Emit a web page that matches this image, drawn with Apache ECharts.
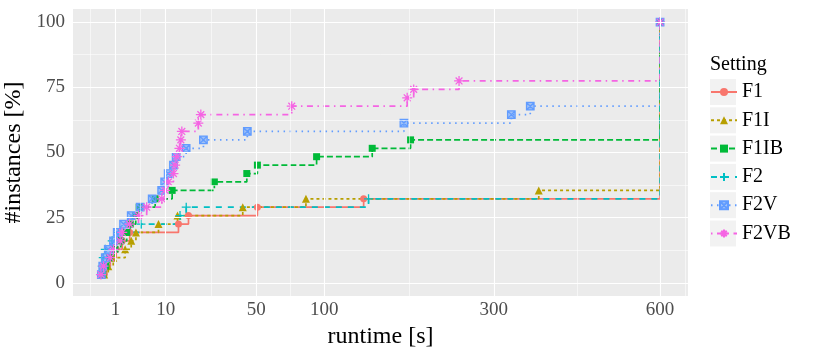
<!DOCTYPE html>
<html lang="en">
<head>
    <meta charset="UTF-8">
    <title>Runtime steps</title>
    <script src="https://cdn.jsdelivr.net/npm/echarts@6/dist/echarts.min.js"></script>
    <style>
        html, body { margin: 0; padding: 0; background: #fff; }
        #chart { width: 822px; height: 353px; }
    </style>
</head>
<body>
<div id="chart"></div>
<script>
    // runtimes in seconds, share of solved instances in %
    var f1Time   = [0.26, 0.38, 0.6, 1.06, 1.66, 2.6, 13.8, 17.2, 50.7, 137, 600];
    var f1Pct    = [3.23, 6.45, 9.68, 12.9, 16.13, 19.35, 22.58, 25.81, 29.03, 32.26, 100];

    var f1iTime  = [0.26, 0.47, 0.81, 2.0, 2.81, 3.53, 8.14, 13.5, 42.1, 84.9, 371, 600];
    var f1iPct   = [3.23, 6.45, 9.68, 12.9, 16.13, 19.35, 22.58, 25.81, 29.03, 32.26, 35.48, 100];

    var f1ibTime = [0.2, 0.33, 0.55, 0.95, 1.5, 2.2, 2.67, 3.5, 4.08, 7.34, 11.85, 27.7, 44.4, 50.7, 93.6, 145.8, 188.5, 600];
    var f1ibPct  = [3.23, 6.45, 9.68, 12.9, 16.13, 19.35, 22.58, 25.81, 29.03, 32.26, 35.48, 38.71, 41.94, 45.16, 48.39, 51.61, 54.84, 100];

    var f2Time   = [0.15, 0.18, 0.22, 0.31, 0.73, 1.25, 4.4, 14.3, 16.4, 142, 600];
    var f2Pct    = [3.23, 6.45, 9.68, 12.9, 16.13, 19.35, 22.58, 25.81, 29.03, 32.26, 100];

    var f2vTime  = [0.15, 0.2, 0.31, 0.47, 0.83, 1.15, 1.81, 2.81, 4.26, 6.66, 8.94, 9.73, 10.7, 12.24, 13.07, 16.37, 22.96, 44.7, 180.7, 326.8, 357, 600];
    var f2vPct   = [3.23, 6.45, 9.68, 12.9, 16.13, 19.35, 22.58, 25.81, 29.03, 32.26, 35.48, 38.71, 41.94, 45.16, 48.39, 51.61, 54.84, 58.06, 61.29, 64.52, 67.74, 100];

    var f2vbTime = [0.137, 0.233, 0.595, 0.83, 1.44, 1.66, 2.57, 3.96, 5.49, 8.99, 9.86, 10.77, 12.24, 12.75, 13.29, 14.11, 14.57, 14.9, 20.9, 21.9, 74.0, 184.5, 192.2, 250.3, 600];
    var f2vbPct  = [3.23, 6.45, 9.68, 12.9, 16.13, 19.35, 22.58, 25.81, 29.03, 32.26, 35.48, 38.71, 41.94, 45.16, 48.39, 51.61, 54.84, 58.06, 61.29, 64.52, 67.74, 70.97, 74.19, 77.42, 100];

    var names = ['F1', 'F1I', 'F1IB', 'F2', 'F2V', 'F2VB'];
    var xTicks = [1, 10, 50, 100, 300, 600];
    var yTicks = [0, 25, 50, 75, 100];
    var yMinor = [12.5, 37.5, 62.5, 87.5];
    // minor grid positions on the square-root scale
    var xMinorSqrt = [-0.081, 2.081, 5.117, 8.536, 13.66, 20.908, 25.577];

    var serif = 'Liberation Serif';
    var chart = echarts.init(document.getElementById('chart'));

    var styles = [
        { color: '#F8766D', dash: 'solid', symbol: 'circle', size: 7 },
        { color: '#B79F00', dash: [3, 3], symbol: 'triangle', size: 8 },
        { color: '#00BA38', dash: [6, 3], symbol: 'rect', size: 7 },
        { color: '#00BFC4', dash: [6, 6], symbol: 'path://M5,0V10M0,5H10', size: 9, stroke: true },
        { color: '#619CFF', dash: [1.5, 4.5], symbol: 'path://M0,0H10V10H0ZM0,0L10,10M10,0L0,10', size: 7.5, stroke: true, fill: 'rgba(97,156,255,0.55)' },
        { color: '#F564E3', dash: [1.5, 4.5, 6, 4.5], symbol: 'path://M5,0V10M0,5H10M1.6,1.6L8.4,8.4M8.4,1.6L1.6,8.4', size: 10, stroke: true }
    ];
    var times = [f1Time, f1iTime, f1ibTime, f2Time, f2vTime, f2vbTime];
    var pcts = [f1Pct, f1iPct, f1ibPct, f2Pct, f2vPct, f2vbPct];

    var gridLines = [];
    xTicks.forEach(function (t) { gridLines.push({ xAxis: Math.sqrt(t), lineStyle: { width: 1.1 } }); });
    xMinorSqrt.forEach(function (s) { gridLines.push({ xAxis: s, lineStyle: { width: 0.55 } }); });
    yTicks.forEach(function (v) { gridLines.push({ yAxis: v, lineStyle: { width: 1.1 } }); });
    yMinor.forEach(function (v) { gridLines.push({ yAxis: v, lineStyle: { width: 0.55 } }); });

    var series = [{
        name: 'grid',
        type: 'line',
        data: [],
        z: 1,
        silent: true,
        markLine: {
            silent: true,
            symbol: 'none',
            animation: false,
            label: { show: false },
            lineStyle: { color: '#FFFFFF', type: 'solid' },
            data: gridLines
        }
    }];

    names.forEach(function (n, i) {
        var st = styles[i];
        series.push({
            name: n,
            type: 'line',
            step: 'end',
            symbol: st.symbol,
            symbolSize: st.size,
            lineStyle: { color: st.color, width: 1.7, type: st.dash, cap: 'butt' },
            itemStyle: st.stroke
                ? { color: st.fill || st.color, borderColor: st.color, borderWidth: 1.3 }
                : { color: st.color },
            data: times[i].map(function (t, j) { return [Math.sqrt(t), pcts[i][j]]; })
        });
    });

    chart.setOption({
        animation: false,
        grid: {
            left: 73, top: 9, width: 615, height: 287,
            outerBoundsMode: 'none',
            containLabel: false,
            show: true, backgroundColor: '#EBEBEB', borderWidth: 0
        },
        xAxis: {
            type: 'value',
            min: -0.836,
            max: 25.70,
            name: 'runtime [s]',
            nameLocation: 'middle',
            nameGap: 27,
            nameTextStyle: { fontFamily: serif, fontSize: 24, color: '#000' },
            axisLine: { show: false },
            axisTick: {
                show: true, length: 3.5,
                customValues: xTicks.map(Math.sqrt),
                lineStyle: { color: '#333333', width: 1 }
            },
            axisLabel: {
                customValues: xTicks.map(Math.sqrt),
                formatter: function (v) { return String(Math.round(v * v)); },
                fontFamily: serif, fontSize: 19, color: '#4D4D4D', margin: 5
            },
            splitLine: { show: false }
        },
        yAxis: {
            type: 'value',
            min: -5,
            max: 105,
            name: '#instances [%]',
            nameLocation: 'middle',
            nameGap: 40,
            nameTextStyle: { fontFamily: serif, fontSize: 24, color: '#000' },
            axisLine: { show: false },
            axisTick: {
                show: true, length: 3.5,
                customValues: yTicks,
                lineStyle: { color: '#333333', width: 1 }
            },
            axisLabel: {
                customValues: yTicks,
                fontFamily: serif, fontSize: 19, color: '#4D4D4D', margin: 8
            },
            splitLine: { show: false }
        },
        legend: {
            data: names,
            orient: 'vertical',
            left: 710,
            top: 82,
            padding: 0,
            itemWidth: 26,
            itemHeight: 10,
            itemGap: 8.3,
            itemTextGap: 5,
            textStyle: { fontFamily: serif, fontSize: 20, lineHeight: 20, color: '#000' }
        },
        graphic: [
            { type: 'text', left: 710, top: 55, style: { text: 'Setting', font: '20px "Liberation Serif"', fill: '#000' } }
        ].concat(names.map(function (n, i) {
            return { type: 'rect', shape: { x: 710, y: 79 + 28.3 * i, width: 26, height: 26 }, style: { fill: '#F2F2F2' }, z: -1 };
        })),
        series: series
    });
</script>
</body>
</html>
